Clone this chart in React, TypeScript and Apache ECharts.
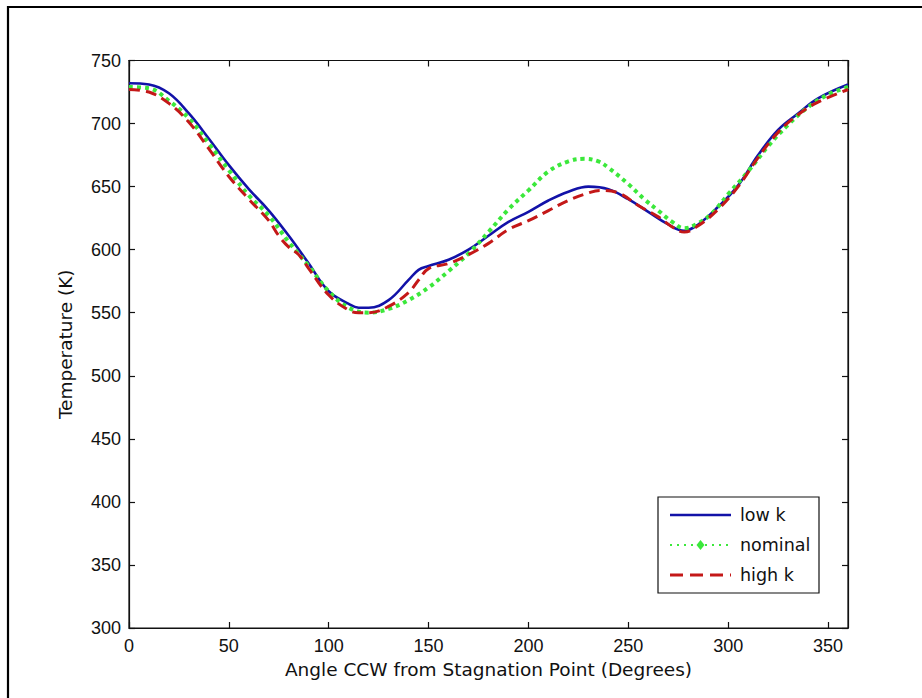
import React, { useEffect, useRef } from "react";
import * as echarts from "echarts";

const seriesNames = ["low k", "nominal", "high k"];
const seriesColors = ["#1212a8", "#3be83b", "#c41818"];

const lowKAngles = [0, 10, 20, 30, 40, 50, 60, 70, 80, 90, 100, 110, 115, 120, 130, 140, 145, 150, 160, 170, 180, 190, 200, 210, 220, 230, 240, 250, 260, 270, 278, 285, 295, 305, 315, 325, 335, 345, 360];
const lowKTemps = [732, 731, 724, 708, 688, 667, 648, 631, 611, 589, 567, 557, 554, 554, 560, 576, 584, 587, 592, 600, 611, 622, 630, 639, 646, 650, 648, 640, 630, 620, 615, 620, 634, 651, 675, 695, 708, 720, 731];

const nominalAngles = [0, 10, 20, 30, 40, 50, 60, 70, 80, 90, 100, 110, 120, 130, 140, 150, 160, 170, 180, 190, 200, 210, 220, 228, 235, 240, 250, 258, 265, 272, 278, 285, 292, 300, 310, 320, 330, 340, 350, 360];
const nominalTemps = [729, 728, 718, 704, 684, 663, 643, 627, 606, 587, 567, 554, 550, 553, 560, 570, 583, 597, 614, 632, 647, 662, 670, 672, 670, 665, 652, 640, 631, 622, 617, 621, 629, 644, 662, 682, 699, 713, 723, 729];

const highKAngles = [0, 10, 20, 30, 40, 50, 60, 70, 75, 80, 85, 90, 100, 110, 115, 120, 130, 140, 145, 150, 160, 170, 180, 190, 200, 210, 220, 230, 236, 245, 255, 265, 272, 278, 285, 295, 305, 315, 325, 335, 345, 360];
const highKTemps = [727, 725, 716, 701, 680, 658, 640, 623, 611, 602, 596, 585, 564, 552, 550, 550, 555, 566, 576, 585, 589, 596, 605, 616, 623, 631, 639, 645, 647, 645, 635, 626, 618, 614, 619, 632, 650, 673, 693, 707, 717, 727];

const xMin = 0;
const xMax = 360;
const xStep = 50;
const yMin = 300;
const yMax = 750;
const yStep = 50;

const xTitle = "Angle CCW from Stagnation Point (Degrees)";
const yTitle = "Temperature (K)";

function pairs(xs: number[], ys: number[]) {
  return xs.map((x, i) => [x, ys[i]]);
}

export default function App() {
  const ref = useRef<HTMLDivElement>(null);

  useEffect(() => {
    if (!ref.current) return;
    const chart = echarts.init(ref.current, null, { renderer: "svg" });
    const tickFont = { fontFamily: "Liberation Sans", fontSize: 18, color: "#111" };
    const nameFont = { fontFamily: "DejaVu Sans", fontSize: 18.5, color: "#111" };
    const axisCommon = {
      axisLine: { show: true, onZero: false, lineStyle: { color: "#111", width: 1.2 } },
      axisTick: { show: true, inside: true, length: 6, lineStyle: { color: "#111", width: 1.2 } },
      splitLine: { show: false },
    };

    // legend drawn as graphic elements
    const lgX = 658;
    const lgY = 497;
    const lgW = 161;
    const lgH = 96;
    const rowY = [lgY + 18, lgY + 48, lgY + 78];
    const lineX1 = lgX + 12;
    const lineX2 = lgX + 73;
    const textX = lgX + 82;
    const legendDash = [null, [2, 5], [13, 7]];
    const legendWidth = [2.6, 2, 3];
    const legendEls: any[] = [
      {
        type: "rect",
        shape: { x: lgX, y: lgY, width: lgW, height: lgH },
        style: { fill: "#fff", stroke: "#111", lineWidth: 1.2 },
        z: 100,
      },
    ];
    seriesNames.forEach((name, i) => {
      legendEls.push({
        type: "line",
        shape: { x1: lineX1, y1: rowY[i], x2: lineX2, y2: rowY[i] },
        style: {
          stroke: seriesColors[i],
          lineWidth: legendWidth[i],
          lineDash: legendDash[i] || undefined,
        },
        z: 101,
      });
      legendEls.push({
        type: "text",
        x: textX,
        y: rowY[i],
        style: {
          text: name,
          fill: "#111",
          font: "17.5px 'DejaVu Sans'",
          verticalAlign: "middle",
          align: "left",
        },
        z: 101,
      });
    });
    const cx = (lineX1 + lineX2) / 2;
    legendEls.push({
      type: "polygon",
      shape: { points: [[cx, rowY[1] - 5], [cx + 4, rowY[1]], [cx, rowY[1] + 5], [cx - 4, rowY[1]]] },
      style: { fill: seriesColors[1] },
      z: 102,
    });

    chart.setOption({
      animation: false,
      backgroundColor: "#fff",
      grid: {
        left: 129,
        top: 60.5,
        right: 74,
        bottom: 70,
        show: true,
        borderColor: "#111",
        borderWidth: 1.2,
        backgroundColor: "transparent",
      },
      xAxis: [
        {
          type: "value",
          min: xMin,
          max: xMax,
          interval: xStep,
          position: "bottom",
          ...axisCommon,
          axisLabel: { ...tickFont, margin: 9, showMaxLabel: false },
          name: xTitle,
          nameLocation: "middle",
          nameGap: 30,
          nameTextStyle: nameFont,
        },
        {
          type: "value",
          min: xMin,
          max: xMax,
          interval: xStep,
          position: "top",
          ...axisCommon,
          axisLabel: { show: false },
        },
      ],
      yAxis: [
        {
          type: "value",
          min: yMin,
          max: yMax,
          interval: yStep,
          position: "left",
          ...axisCommon,
          axisLabel: { ...tickFont, margin: 8 },
          name: yTitle,
          nameLocation: "middle",
          nameGap: 54,
          nameTextStyle: nameFont,
        },
        {
          type: "value",
          min: yMin,
          max: yMax,
          interval: yStep,
          position: "right",
          ...axisCommon,
          axisLabel: { show: false },
        },
      ],
      series: [
        {
          name: seriesNames[0],
          type: "line",
          data: pairs(lowKAngles, lowKTemps),
          smooth: 0.4,
          symbol: "none",
          lineStyle: { color: seriesColors[0], width: 2.6 },
          itemStyle: { color: seriesColors[0] },
          z: 2,
        },
        {
          name: seriesNames[1],
          type: "line",
          data: pairs(nominalAngles, nominalTemps),
          smooth: 0.4,
          symbol: "none",
          lineStyle: { color: seriesColors[1], width: 4, type: [4, 4] },
          itemStyle: { color: seriesColors[1] },
          z: 3,
        },
        {
          name: seriesNames[2],
          type: "line",
          data: pairs(highKAngles, highKTemps),
          smooth: 0.4,
          symbol: "none",
          lineStyle: { color: seriesColors[2], width: 3, type: [11, 6] },
          itemStyle: { color: seriesColors[2] },
          z: 4,
        },
      ],
      graphic: [
        { type: "line", shape: { x1: 8, y1: 6, x2: 8, y2: 698 }, style: { stroke: "#000", lineWidth: 2.2 } },
        { type: "line", shape: { x1: 7, y1: 7, x2: 922, y2: 7 }, style: { stroke: "#000", lineWidth: 2.2 } },
        ...legendEls,
      ],
    });
    return () => chart.dispose();
  }, []);

  return (
    <div
      ref={ref}
      style={{ position: "fixed", left: 0, top: 0, width: 922, height: 698, background: "#fff" }}
    />
  );
}
